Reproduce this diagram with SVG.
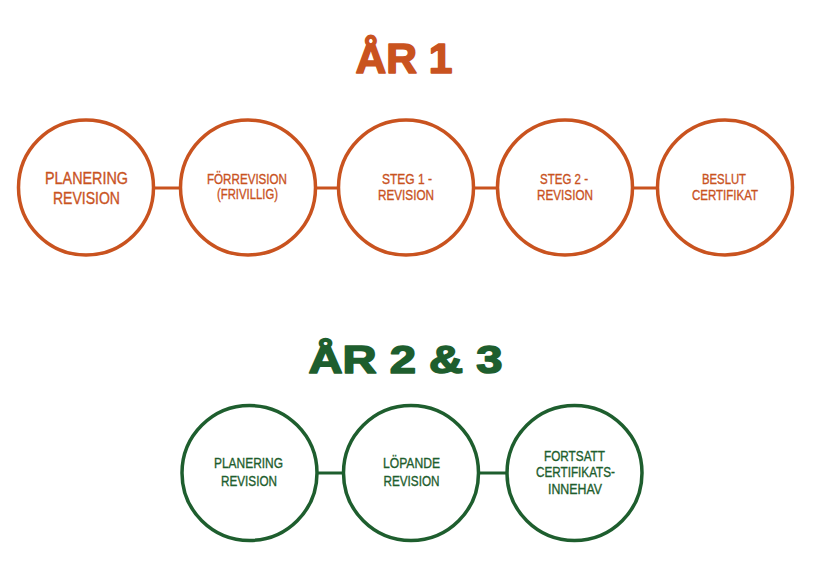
<svg xmlns="http://www.w3.org/2000/svg" width="818" height="572" viewBox="0 0 818 572">
<style>
.o{fill:none;stroke:#C9531F;stroke-width:3.5}
.g{fill:none;stroke:#1E5E2E;stroke-width:3.5}
.ol{stroke:#C9531F;stroke-width:3}
.gl{stroke:#1E5E2E;stroke-width:3}
text{font-family:"Liberation Sans",Arial,sans-serif;text-anchor:middle;stroke-width:0.35}
.to{fill:#C9531F;stroke:#C9531F}
.tg{fill:#1E5E2E;stroke:#1E5E2E}
.h{font-weight:bold;stroke-width:1.6;stroke-linejoin:round}
</style>
<rect width="818" height="572" fill="#fff"/>
<text class="to h" x="404" y="73" font-size="43" textLength="97" lengthAdjust="spacingAndGlyphs">ÅR 1</text>
<text class="tg h" x="405.5" y="373" font-size="39" textLength="194" lengthAdjust="spacingAndGlyphs">ÅR 2 &amp; 3</text>
<g id="connectors">
<line class="ol" x1="154" y1="188" x2="180" y2="188"/>
<line class="ol" x1="316" y1="188" x2="338" y2="188"/>
<line class="ol" x1="474" y1="188" x2="497" y2="188"/>
<line class="ol" x1="633" y1="188" x2="657" y2="188"/>
<line class="gl" x1="317" y1="473" x2="343" y2="473"/>
<line class="gl" x1="479" y1="473" x2="506" y2="473"/>
</g>
<g id="n1">
<circle class="o" cx="86" cy="187.5" r="67.5"/>
<text class="to" x="86.5" y="184" font-size="16.5" textLength="83" lengthAdjust="spacingAndGlyphs">PLANERING</text>
<text class="to" x="86.5" y="204" font-size="16.5" textLength="67" lengthAdjust="spacingAndGlyphs">REVISION</text>
</g>
<g id="n2">
<circle class="o" cx="248" cy="187.5" r="67.5"/>
<text class="to" x="247" y="184" font-size="14.5" textLength="80" lengthAdjust="spacingAndGlyphs">FÖRREVISION</text>
<text class="to" x="247.5" y="199" font-size="14.5" textLength="61" lengthAdjust="spacingAndGlyphs">(FRIVILLIG)</text>
</g>
<g id="n3">
<circle class="o" cx="406" cy="187.5" r="67.5"/>
<text class="to" x="407" y="184" font-size="14.5" textLength="50" lengthAdjust="spacingAndGlyphs">STEG 1 -</text>
<text class="to" x="406" y="200" font-size="14.5" textLength="56" lengthAdjust="spacingAndGlyphs">REVISION</text>
</g>
<g id="n4">
<circle class="o" cx="565" cy="187.5" r="67.5"/>
<text class="to" x="564" y="184" font-size="14.5" textLength="48" lengthAdjust="spacingAndGlyphs">STEG 2 -</text>
<text class="to" x="565" y="200" font-size="14.5" textLength="56" lengthAdjust="spacingAndGlyphs">REVISION</text>
</g>
<g id="n5">
<circle class="o" cx="725" cy="187.5" r="67.5"/>
<text class="to" x="724" y="184" font-size="14.5" textLength="44" lengthAdjust="spacingAndGlyphs">BESLUT</text>
<text class="to" x="725" y="200" font-size="14.5" textLength="66" lengthAdjust="spacingAndGlyphs">CERTIFIKAT</text>
</g>
<g id="m1">
<circle class="g" cx="249.5" cy="473" r="67.5"/>
<text class="tg" x="248.5" y="468" font-size="14.5" textLength="69" lengthAdjust="spacingAndGlyphs">PLANERING</text>
<text class="tg" x="249" y="486" font-size="14.5" textLength="56" lengthAdjust="spacingAndGlyphs">REVISION</text>
</g>
<g id="m2">
<circle class="g" cx="411" cy="473" r="67.5"/>
<text class="tg" x="411.5" y="468" font-size="14.5" textLength="57" lengthAdjust="spacingAndGlyphs">LÖPANDE</text>
<text class="tg" x="411.5" y="486" font-size="14.5" textLength="56" lengthAdjust="spacingAndGlyphs">REVISION</text>
</g>
<g id="m3">
<circle class="g" cx="574.5" cy="473" r="67.5"/>
<text class="tg" x="574.5" y="461" font-size="14.5" textLength="61" lengthAdjust="spacingAndGlyphs">FORTSATT</text>
<text class="tg" x="575.5" y="477" font-size="14.5" textLength="79" lengthAdjust="spacingAndGlyphs">CERTIFIKATS-</text>
<text class="tg" x="575" y="494" font-size="14.5" textLength="54" lengthAdjust="spacingAndGlyphs">INNEHAV</text>
</g>
</svg>
